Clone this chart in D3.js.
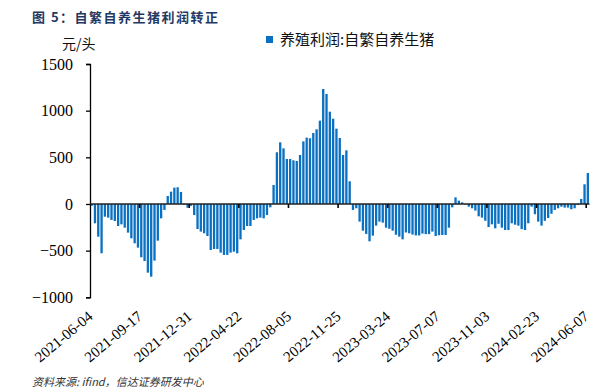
<!DOCTYPE html>
<html>
<head>
<meta charset="utf-8">
<script src="https://cdn.jsdelivr.net/npm/d3@7"></script>
<style>
  body { margin: 0; background: #fff; }
  svg { display: block; }
</style>
</head>
<body>
<div id="chart"></div>
<script>
// --- données : semaines (vendredi), profit en 元/头 ---
const dates = [
  "2021-06-04","2021-06-11","2021-06-18","2021-06-25","2021-07-02","2021-07-09","2021-07-16","2021-07-23","2021-07-30","2021-08-06","2021-08-13","2021-08-20","2021-08-27","2021-09-03","2021-09-10",
  "2021-09-17","2021-09-24","2021-10-01","2021-10-08","2021-10-15","2021-10-22","2021-10-29","2021-11-05","2021-11-12","2021-11-19","2021-11-26","2021-12-03","2021-12-10","2021-12-17","2021-12-24",
  "2021-12-31","2022-01-07","2022-01-14","2022-01-21","2022-01-28","2022-02-11","2022-02-18","2022-02-25","2022-03-04","2022-03-11","2022-03-18","2022-03-25","2022-04-01","2022-04-08","2022-04-15",
  "2022-04-22","2022-04-29","2022-05-06","2022-05-13","2022-05-20","2022-05-27","2022-06-03","2022-06-10","2022-06-17","2022-06-24","2022-07-01","2022-07-08","2022-07-15","2022-07-22","2022-07-29",
  "2022-08-05","2022-08-12","2022-08-19","2022-08-26","2022-09-02","2022-09-09","2022-09-16","2022-09-23","2022-09-30","2022-10-14","2022-10-21","2022-10-28","2022-11-04","2022-11-11","2022-11-18",
  "2022-11-25","2022-12-02","2022-12-09","2022-12-16","2022-12-23","2023-01-06","2023-01-13","2023-01-20","2023-02-03","2023-02-10","2023-02-17","2023-02-24","2023-03-03","2023-03-10","2023-03-17",
  "2023-03-24","2023-03-31","2023-04-07","2023-04-14","2023-04-21","2023-04-28","2023-05-05","2023-05-12","2023-05-19","2023-05-26","2023-06-02","2023-06-09","2023-06-16","2023-06-23","2023-06-30",
  "2023-07-07","2023-07-14","2023-07-21","2023-07-28","2023-08-04","2023-08-11","2023-08-18","2023-08-25","2023-09-01","2023-09-08","2023-09-15","2023-09-22","2023-10-13","2023-10-20","2023-10-27",
  "2023-11-03","2023-11-10","2023-11-17","2023-11-24","2023-12-01","2023-12-08","2023-12-15","2023-12-22","2023-12-29","2024-01-05","2024-01-12","2024-01-19","2024-01-26","2024-02-02","2024-02-09",
  "2024-02-23","2024-03-01","2024-03-08","2024-03-15","2024-03-22","2024-03-29","2024-04-05","2024-04-12","2024-04-19","2024-04-26","2024-05-03","2024-05-10","2024-05-17","2024-05-24","2024-05-31",
  "2024-06-07"
];

const profit = [
  -20,-207,-350,-528,-136,-146,-171,-182,-236,-218,-254,-307,-368,-421,-468,
  -571,-611,-736,-779,-607,-393,-154,-64,86,132,175,179,129,-10,-40,
  -20,-118,-268,-296,-314,-343,-493,-482,-482,-521,-546,-546,-521,-511,-529,
  -379,-279,-236,-236,-171,-154,-146,-154,-118,-36,204,554,661,596,482,
  482,468,461,525,671,711,704,761,800,893,1232,1179,989,914,807,
  707,525,575,243,-64,-46,-189,-286,-321,-400,-339,-232,-189,-200,-254,
  -265,-286,-330,-350,-379,-305,-314,-328,-337,-337,-317,-323,-323,-296,-343,
  -335,-332,-332,-254,-36,71,36,18,-5,-29,-46,-71,-132,-146,-180,
  -247,-218,-261,-212,-254,-279,-279,-207,-222,-232,-270,-279,-207,-29,-110,
  -189,-232,-180,-150,-105,-64,-46,-29,-39,-39,-57,-46,-11,54,211,
  332
];

const yTicks = [-1000, -500, 0, 500, 1000, 1500];
const labelEvery = 15;
const seriesName = "养殖利润:自繁自养生猪";

// --- mise en page ---
const W = 616, H = 388;
const plotLeft = 90, plotRight = 589.5, plotTop = 64, plotBottom = 297.3;
const blue = "#0a70c2";

const svg = d3.select("#chart").append("svg")
  .attr("width", W).attr("height", H)
  .style("font-family", "'Liberation Serif', serif");

const x = d3.scaleBand().domain(dates).range([plotLeft, plotRight]).padding(0);
const y = d3.scaleLinear().domain([-1000, 1500]).range([plotBottom, plotTop]);
const bw = x.bandwidth();

// titre
svg.append("text")
  .attr("x", 32).attr("y", 22)
  .style("font-family", "'Noto Sans CJK SC', sans-serif")
  .style("font-size", "13px").style("font-weight", "bold")
  .style("letter-spacing", "1.5px")
  .style("fill", "#1f3864")
  .text("图 5：自繁自养生猪利润转正");

// unité
svg.append("text")
  .attr("x", 62).attr("y", 49)
  .style("font-family", "'Noto Sans CJK SC', sans-serif")
  .style("font-size", "14px").style("fill", "#111")
  .text("元/头");

// légende
svg.append("rect").attr("x", 266).attr("y", 36).attr("width", 7).attr("height", 7).style("fill", blue);
svg.append("text")
  .attr("x", 280).attr("y", 45)
  .style("font-family", "'Noto Sans CJK SC', sans-serif")
  .style("font-size", "15px").style("fill", "#111")
  .text(seriesName);

// barres
svg.append("g").selectAll("rect")
  .data(dates.map((d, i) => ({date: d, v: profit[i]})))
  .join("rect")
  .attr("x", d => x(d.date) + bw * 0.15)
  .attr("width", bw * 0.7)
  .attr("y", d => y(Math.max(0, d.v)))
  .attr("height", d => Math.abs(y(d.v) - y(0)))
  .style("fill", blue);

// axe Y
const yAxis = svg.append("g")
  .attr("transform", `translate(${plotLeft},0)`)
  .call(d3.axisLeft(y).tickValues(yTicks).tickSize(4).tickPadding(13).tickFormat(d3.format("d")));
yAxis.select(".domain").attr("stroke", "#000").attr("stroke-width", 1.3);
yAxis.selectAll(".tick line").attr("stroke", "#000").attr("stroke-width", 1.3);
yAxis.selectAll(".tick text")
  .style("font-size", "16px").style("fill", "#000")
  .style("font-family", "'Liberation Serif', serif");

// axe X au niveau du zéro
const x0 = y(0);
svg.append("line")
  .attr("x1", plotLeft).attr("x2", plotRight).attr("y1", x0).attr("y2", x0)
  .attr("stroke", "#222").attr("stroke-width", 1.6);

const tickIdx = d3.range(labelEvery, dates.length, labelEvery);
svg.append("g").selectAll("line")
  .data(tickIdx)
  .join("line")
  .attr("x1", i => x(dates[i])).attr("x2", i => x(dates[i]))
  .attr("y1", x0).attr("y2", x0 + 4)
  .attr("stroke", "#000").attr("stroke-width", 1.6);

// étiquettes de dates, en bas du graphique
svg.append("g").selectAll("text")
  .data(d3.range(0, dates.length, labelEvery))
  .join("text")
  .attr("transform", i => `translate(${x(dates[i]) + bw / 2 + 2},${318}) rotate(-40)`)
  .attr("text-anchor", "end")
  .style("font-size", "15px").style("fill", "#000")
  .text(i => dates[i]);

// source
svg.append("text")
  .attr("x", 32).attr("y", 386)
  .style("font-family", "'Noto Sans CJK SC', sans-serif")
  .style("font-size", "11px").style("font-style", "italic").style("fill", "#333")
  .text("资料来源: ifind，信达证券研发中心");
</script>
</body>
</html>
